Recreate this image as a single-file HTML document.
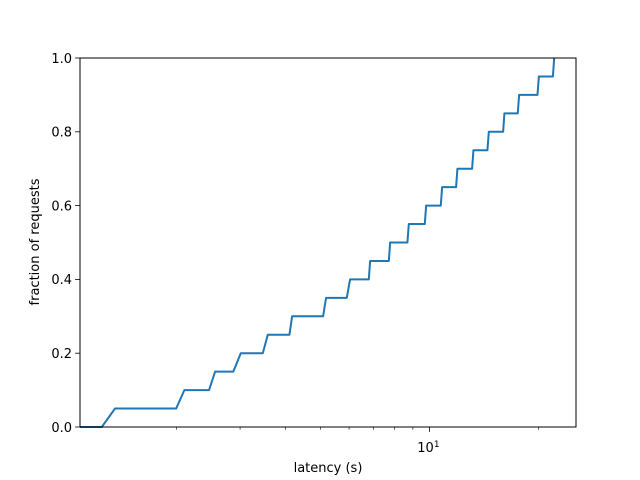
<!DOCTYPE html>
<html><head><meta charset="utf-8"><style>
html,body{margin:0;padding:0;background:#fff;}
svg{display:block;font-family:"DejaVu Sans","Liberation Sans",sans-serif;}
</style></head><body>
<svg id="chart" width="640" height="480" viewBox="0 0 640 480">
<rect width="640" height="480" fill="#fff"/>
<g id="ticks"></g>
<path id="line" fill="none" stroke="#1f77b4" stroke-width="2" stroke-linejoin="round"/>
<rect x="80" y="58" width="496" height="369" fill="none" stroke="#000" stroke-width="1"/>
<text x="328" y="472" font-size="13" text-anchor="middle">latency (s)</text>
<text x="0" y="0" font-size="13" text-anchor="middle" transform="translate(39,242) rotate(-90)">fraction of requests</text>
</svg>
<script>
const rampStart=[1.245,1.998,2.463,2.874,3.466,4.106,5.086,5.913,6.802,7.725,8.694,9.712,10.75,11.85,13.12,14.46,15.98,17.54,19.88,21.93];
const rampEnd=[1.354,2.105,2.559,3.013,3.578,4.177,5.183,6.038,6.859,7.790,8.772,9.792,10.84,11.95,13.23,14.59,16.11,17.69,20.06,22.11];
const levels=[0.05,0.10,0.15,0.20,0.25,0.30,0.35,0.40,0.45,0.50,0.55,0.60,0.65,0.70,0.75,0.80,0.85,0.90,0.95,1.00];
const yTicks=[0,0.2,0.4,0.6,0.8,1.0];
const yTickLabels=["0.0","0.2","0.4","0.6","0.8","1.0"];
const xMinor=[2,3,4,5,6,7,8,9,20];
const xMajor=[10];
const xMin=1.084, xMax=25.4;
const L=80,R=576,T=58,B=427;
function X(v){return L+(R-L)*(Math.log10(v)-Math.log10(xMin))/(Math.log10(xMax)-Math.log10(xMin));}
function Y(v){return B-(B-T)*v;}
const NS="http://www.w3.org/2000/svg";
const g=document.getElementById('ticks');
function mk(tag,attrs){const e=document.createElementNS(NS,tag);for(const k in attrs)e.setAttribute(k,attrs[k]);g.appendChild(e);return e;}
yTicks.forEach((v,i)=>{
  const t=mk('line',{x1:L-4.9,x2:L,y1:Y(v),y2:Y(v),stroke:'#000','stroke-width':0.8});
  
  
  const s=mk('text',{x:L-8,y:Y(v)+4.8,'font-size':13,'text-anchor':'end'});
  s.textContent=yTickLabels[i];
  
  
});
xMinor.forEach(v=>{
  const t=mk('line',{x1:X(v),x2:X(v),y1:B,y2:B+2.8,stroke:'#000','stroke-width':0.6});
  
  
});
xMajor.forEach(v=>{
  const t=mk('line',{x1:X(v),x2:X(v),y1:B,y2:B+4.9,stroke:'#000','stroke-width':0.8});
  
  
  const s=mk('text',{x:X(v)-1,y:B+25,'font-size':13,'text-anchor':'middle'});
  s.innerHTML='10<tspan dy="-5" font-size="9">'+Math.round(Math.log10(v))+'</tspan>';
  
  
});
let d='M'+L+','+Y(0);
let prev=0;
for(let i=0;i<levels.length;i++){
  d+=' L'+X(rampStart[i]).toFixed(2)+','+Y(prev).toFixed(2);
  d+=' L'+X(rampEnd[i]).toFixed(2)+','+Y(levels[i]).toFixed(2);
  prev=levels[i];
  if(i<levels.length-1) d+=' L'+X(rampStart[i+1]).toFixed(2)+','+Y(prev).toFixed(2);
}
document.getElementById('line').setAttribute('d',d);
</script>
</body></html>
